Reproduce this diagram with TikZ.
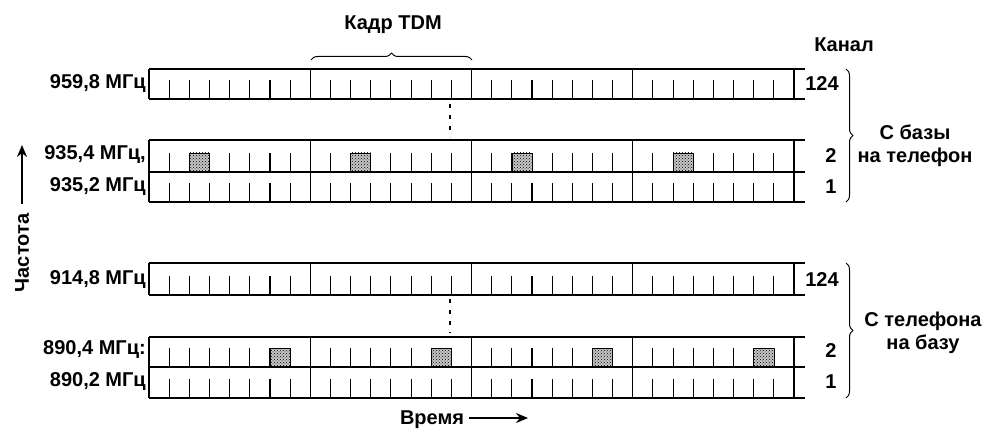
\documentclass[tikz,border=0pt]{standalone}
\usepackage{fontspec}
\setmainfont{Liberation Sans}
\usetikzlibrary{decorations.pathreplacing,patterns,positioning,arrows.meta}
\tikzset{
  lbl/.style={inner sep=1pt},
  brc/.style={decorate,decoration={brace,amplitude=7pt},line width=1pt},
  slotfill/.style={fill=gray!45,postaction={pattern=crosshatch dots},draw,line width=0.6pt},
}
\begin{document}
\begin{tikzpicture}[x=1pt,y=-1pt,font=\fontsize{20}{23}\selectfont\bfseries,line join=round,line cap=butt,>={Stealth[length=12pt,width=10pt]}]
	\useasboundingbox (0,0) rectangle (983,433);
	% channel rows: top/bottom
	\foreach \t/\b in {69/99,140/172,172/202,263/295,337/367,367/398}{
		\draw[line width=1.6pt] (149,\t)--(805,\t) (149,\b)--(805,\b);
		\foreach \f in {0,...,4} \draw[line width=1.1pt] (149+\f*161.25,\t)--(149+\f*161.25,\b);
		\foreach \f in {0,...,3}
			\foreach \k in {1,...,7} \draw[line width=1.1pt] (149+\f*161.25+\k*20.16,\b)--++(0,-19);
	}
	% busy slots
	\foreach \f in {0,...,3}{
		\draw[slotfill] (149+\f*161.25+2*20.16,171)rectangle++(20.16,-18);
		\draw[slotfill] (149+\f*161.25+6*20.16,366)rectangle++(20.16,-18);
	}
	\draw[line width=2.5pt,dash pattern=on 4pt off 7pt] (450,104)--(450,137) (450,299)--(450,333);
	% frequencies
	\node[lbl,left] (f1) at (147,84) {959,8 МГц};
	\node[lbl,left] (f2) at (147,155) {935,4 МГц,};
	\node[lbl,left] (f3) at (147,187) {935,2 МГц};
	\node[lbl,left] (f4) at (147,280) {914,8 МГц};
	\node[lbl,left] (f5) at (147,350) {890,4 МГц:};
	\node[lbl,left] (f6) at (147,382) {890,2 МГц};
	% channels
	\node[lbl] (kanal) at (844,45) {Канал};
	\node[lbl] (c1) at (822,84) {124};
	\node[lbl] (c2) at (831,156) {2};
	\node[lbl] (c3) at (831,187) {1};
	\node[lbl] (c4) at (822,280) {124};
	\node[lbl] (c5) at (831,351) {2};
	\node[lbl] (c6) at (831,382) {1};
	% braces
	\draw[brc] (311,60)--(472,60);
	\node[lbl] (frame) at (393,25) {Кадр TDM};
	\draw[brc] (846,69)--(846,202);
	\node[lbl,align=center] (down) at (915,146) {С базы\\на телефон};
	\draw[brc] (846,263)--(846,398);
	\node[lbl,align=center] (up) at (923,333) {С телефона\\на базу};
	% axes
	\node[lbl,rotate=90] (freq) at (22,253) {Частота};
	\coordinate (ftop) at (22,145);
	\draw[->,line width=2pt] (freq.east)++(0,-9)--(ftop);
	\node[lbl] (time) at (432,420) {Время};
	\coordinate (tend) at (528,418);
	\draw[->,line width=2pt] (time.east)++(4,-2)--(tend);
\end{tikzpicture}
\end{document}
